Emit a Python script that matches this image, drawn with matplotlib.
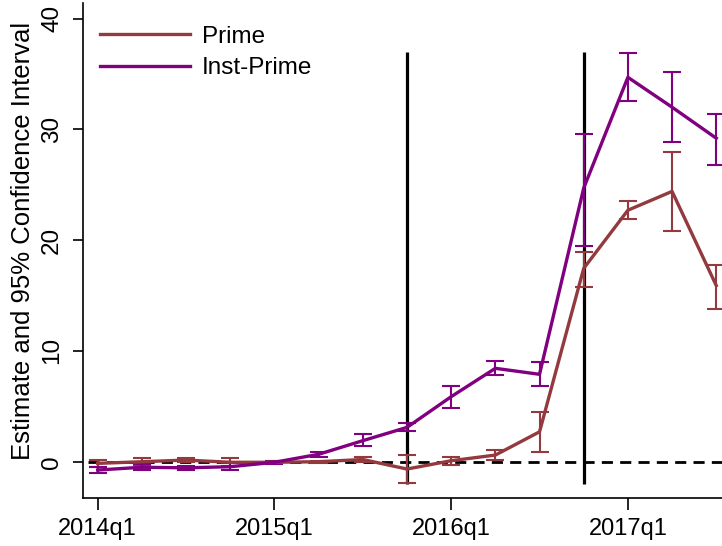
import numpy as np
import matplotlib.pyplot as plt

plt.rcParams['font.family'] = ['Liberation Sans', 'DejaVu Sans']

# Quarterly event-study estimates, 2014q1 .. 2017q3
quarters = ['2014q1', '2014q2', '2014q3', '2014q4',
            '2015q1', '2015q2', '2015q3', '2015q4',
            '2016q1', '2016q2', '2016q3', '2016q4',
            '2017q1', '2017q2', '2017q3']
tick_labels = ['2014q1', '2015q1', '2016q1', '2017q1']

prime_est = [-0.15, 0.0, 0.15, -0.05, -0.05, 0.0, 0.2, -0.66,
             0.09, 0.6, 2.7, 17.45, 22.7, 24.4, 15.9]
prime_lo = [-0.5, -0.3, -0.05, -0.4, -0.15, -0.1, 0.0, -1.9,
            -0.3, 0.15, 0.9, 15.8, 21.9, 20.8, 13.8]
prime_hi = [0.2, 0.3, 0.35, 0.3, 0.05, 0.1, 0.4, 0.6,
            0.45, 1.06, 4.5, 18.95, 23.5, 28.0, 17.8]

inst_est = [-0.75, -0.5, -0.55, -0.45, -0.05, 0.67, 1.9, 3.1,
            5.87, 8.43, 7.89, 24.7, 34.7, 32.0, 29.2]
inst_lo = [-1.0, -0.75, -0.75, -0.75, -0.2, 0.4, 1.45, 2.77,
           4.87, 7.85, 6.83, 19.5, 32.6, 28.9, 26.8]
inst_hi = [-0.5, -0.25, -0.35, -0.15, 0.1, 0.9, 2.47, 3.5,
           6.86, 9.09, 8.97, 29.6, 36.9, 35.2, 31.4]

event_quarters = ['2015q4', '2016q4']

x = np.arange(len(quarters))
prime_c = '#933a3f'
inst_c = '#800080'

fig = plt.figure(figsize=(7.22, 5.46), dpi=100)
ax = fig.add_axes([0.1145, 0.0874, 0.8855, 0.907])

ax.hlines(0, -0.22, 14.2, colors='black', linestyles=(0, (4, 2.6)), linewidth=2.0, zorder=1)
for q in event_quarters:
    xi = quarters.index(q)
    ax.vlines(xi, -2, 37, colors='black', linewidth=2.3, zorder=2)

for est, lo, hi, c, lab in [(prime_est, prime_lo, prime_hi, prime_c, 'Prime'),
                            (inst_est, inst_lo, inst_hi, inst_c, 'Inst-Prime')]:
    est = np.array(est)
    yerr = [est - np.array(lo), np.array(hi) - est]
    ax.errorbar(x, est, yerr=yerr, fmt='none', ecolor=c, elinewidth=1.5,
                capsize=6.5, capthick=1.5, zorder=3)
    ax.plot(x, est, color=c, linewidth=2.4, label=lab, zorder=4)

ax.set_xlim(-0.34, 14.13)
ax.set_ylim(-3.3, 41.4)
ax.set_xticks([quarters.index(t) for t in tick_labels])
ax.set_xticklabels(tick_labels)
ax.set_yticks([0, 10, 20, 30, 40])
ax.tick_params(axis='x', labelsize=17, length=8.5, width=1.2, pad=6)
ax.tick_params(axis='y', labelsize=17.5, length=7, width=1.2, pad=7)
for lbl in ax.get_yticklabels():
    lbl.set_rotation(90)
    lbl.set_va('center')
ax.set_ylabel('Estimate and 95% Confidence Interval', fontsize=18.5)
ax.yaxis.set_label_coords(-0.074, 0.52)

for s in ['top', 'right']:
    ax.spines[s].set_visible(False)
for s in ['left', 'bottom']:
    ax.spines[s].set_linewidth(1.2)

ax.legend(loc='upper left', bbox_to_anchor=(0.012, 0.974), frameon=False,
          fontsize=17.5, handlelength=3.7, handletextpad=0.5, labelspacing=0.4,
          borderaxespad=0)

fig.savefig('out.png', dpi=100)
